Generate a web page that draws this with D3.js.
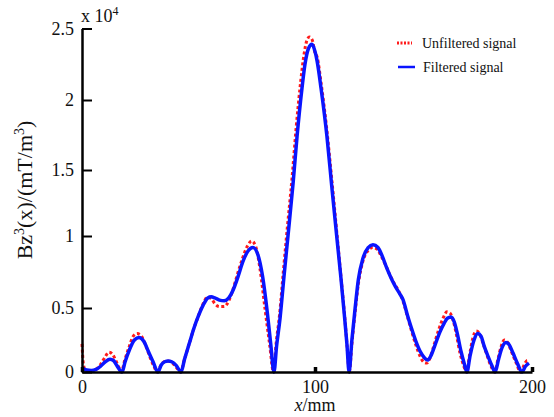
<!DOCTYPE html>
<html>
<head>
<meta charset="utf-8">
<script src="https://cdn.jsdelivr.net/npm/d3@7"></script>
<style>
  html, body { margin: 0; padding: 0; background: #fff; }
  svg { display: block; }
  svg text { font-family: "Liberation Serif", "Times New Roman", Tinos, "DejaVu Serif", serif !important; }
</style>
</head>
<body>
<svg id="chart" width="554" height="417"></svg>
<script>
// Position along the sensor (mm) and Bz^3 in units of 10^4 (mT/m^3)
const filteredX = [0,2,4,6,8,10,12,13.5,15,17.2,
  18.5,20.5,22.5,24.5,26.5,28.5,30.5,32.6,
  34,35.5,37,38.5,40.5,42.5,
  44,46,48,50,52,54,55.5,57,59,61,63,65,67,69,71,73.4,75.5,77.5,79.5,81,82.4,
  83.5,85,86.7,88.4,90.6,92.3,94.4,95.7,97.2,98.7,100,101,102.8,105.5,107.7,110,112,113.5,114.7,115.7,
  117,118.5,120,122,124.5,126.7,129,131,133,135,137,139,140.6,142.5,144.5,146.5,148.5,150.5,152,153.5,155.5,157.5,159.5,161,162.7,164.2,165.7,167.3,168.7,170,
  171.5,173.3,175,176.5,178,179.8,181.5,183,
  184.6,186.2,188,189.6,191.2,193.2,195.4,197,198.6];
const filteredY = [0.03,0.015,0.012,0.02,0.045,0.08,0.1,0.09,0.05,0,
  0.08,0.18,0.25,0.27,0.24,0.16,0.08,0,
  0.055,0.08,0.086,0.08,0.05,0,
  0.1,0.22,0.34,0.44,0.52,0.57,0.578,0.57,0.555,0.55,0.57,0.63,0.72,0.82,0.89,0.92,0.87,0.72,0.47,0.22,0,
  0.2,0.42,0.72,1.0,1.4,1.74,2.08,2.25,2.36,2.39,2.34,2.27,2.08,1.74,1.38,1.0,0.7,0.45,0.22,0,
  0.25,0.5,0.7,0.84,0.92,0.94,0.92,0.86,0.78,0.71,0.65,0.6,0.556,0.45,0.34,0.24,0.16,0.11,0.094,0.13,0.22,0.31,0.38,0.42,0.43,0.39,0.29,0.16,0.07,0,
  0.13,0.25,0.3,0.28,0.2,0.12,0.05,0,
  0.1,0.19,0.23,0.21,0.15,0.07,0,0.045,0.07];

const unfilteredX = [0,0.6,1.5,4,6,8,10,11.5,13,14.5,16,16.9,
  18.3,20.3,22,23.7,25.5,27.5,29.5,31,32.2,
  33.8,35.3,36.8,38.5,40.3,42.3,
  44,46,48,50,52,53.8,55.5,57,59,61,63,65,67,69,71,72.8,74.5,76.5,78.5,80.5,82.2,
  83.3,84.8,86.4,88,90.2,91.9,93.8,95.3,96.6,97.6,98.8,100,101,102.8,105.5,107.9,110.2,112.2,113.7,114.8,115.8,
  117,118.5,120,122,124.5,126.5,128.5,130.5,132.5,134.5,136.5,138.5,140.5,142.5,144.5,146.5,148.5,150.3,151.5,153,155,157,159,160.8,162.2,163.7,165.2,166.8,168.5,169.8,
  171.3,172.8,174.3,175.8,177.5,179.3,181,182.8,
  184.3,185.8,187.2,188.8,190.5,192.5,194.8,196.5,197.8,198.4];
const unfilteredY = [0.22,0.06,0.01,0.008,0.02,0.06,0.12,0.155,0.14,0.09,0.03,0,
  0.09,0.2,0.28,0.3,0.28,0.2,0.1,0.04,0,
  0.05,0.08,0.085,0.075,0.04,0,
  0.1,0.22,0.34,0.44,0.53,0.575,0.565,0.53,0.51,0.51,0.55,0.64,0.75,0.85,0.93,0.965,0.93,0.76,0.5,0.22,0,
  0.22,0.45,0.75,1.04,1.45,1.8,2.12,2.32,2.42,2.44,2.42,2.33,2.3,2.12,1.78,1.4,1.0,0.68,0.43,0.2,0,
  0.22,0.47,0.67,0.82,0.9,0.92,0.91,0.86,0.8,0.73,0.67,0.62,0.55,0.44,0.32,0.21,0.12,0.075,0.07,0.11,0.22,0.33,0.42,0.47,0.46,0.4,0.29,0.15,0.05,0,
  0.14,0.27,0.32,0.3,0.22,0.13,0.05,0,
  0.1,0.2,0.25,0.23,0.16,0.08,0,0.06,0.09,0.08];

const xTicks = [0, 100, 200];
const yTicks = [0, 0.5, 1, 1.5, 2, 2.5];
const seriesNames = ["Unfiltered signal", "Filtered signal"];

const serif = "'Liberation Serif', 'Times New Roman', Tinos, serif";
const svg = d3.select("#chart");

const x = d3.scaleLinear().domain([0, 100, 200]).range([82, 315, 532]);
const y = d3.scaleLinear().domain([0, 0.5, 1, 1.5, 2, 2.5]).range([372, 308, 236, 170, 100, 28.5]);

const line = d3.line()
  .x(d => x(d[0]))
  .y(d => y(d[1]))
  .curve(d3.curveMonotoneX);

const unfiltered = d3.zip(unfilteredX, unfilteredY);
const filtered = d3.zip(filteredX, filteredY);

// traces: red dotted underneath, blue solid on top
svg.append("path")
  .attr("d", line(unfiltered))
  .attr("fill", "none")
  .attr("stroke", "#ff1a1a")
  .attr("stroke-width", 3)
  .attr("stroke-dasharray", "3,2.5");

svg.append("path")
  .attr("d", line(filtered))
  .attr("fill", "none")
  .attr("stroke", "#0a14ff")
  .attr("stroke-width", 3.5)
  .attr("stroke-linejoin", "round");

// axes
const yAxis = d3.axisLeft(y)
  .tickValues(yTicks)
  .tickFormat(d => d3.format("")(d))
  .tickSizeInner(-10)
  .tickSizeOuter(0)
  .tickPadding(8);

const gy = svg.append("g").attr("transform", "translate(82,0)").call(yAxis)
  .attr("font-family", serif).attr("font-size", 18);
gy.select(".domain").attr("stroke", "#000").attr("stroke-width", 2.5);
gy.selectAll(".tick line").attr("stroke", "#000").attr("stroke-width", 2);
gy.selectAll(".tick text").style("font-family", serif).attr("fill", "#111");

const xAxis = d3.axisBottom(x)
  .tickValues(xTicks)
  .tickSizeInner(-5)
  .tickSizeOuter(0)
  .tickPadding(8);

const gx = svg.append("g").attr("transform", "translate(0,372)").call(xAxis)
  .attr("font-family", serif).attr("font-size", 18);
gx.select(".domain").attr("stroke", "#000").attr("stroke-width", 2.5);
gx.selectAll(".tick line").attr("stroke", "#000").attr("stroke-width", 3.5);
gx.selectAll(".tick text").style("font-family", serif).attr("fill", "#111");

// exponent marker
const expo = svg.append("text")
  .attr("x", 81).attr("y", 22)
  .style("font-family", serif)
  .attr("font-size", 18).attr("fill", "#111");
expo.append("tspan").text("x 10");
expo.append("tspan").attr("font-size", 12).attr("dy", -7).text("4");

// axis titles
const yt = svg.append("text")
  .attr("transform", "translate(32,190) rotate(-90)")
  .attr("text-anchor", "middle")
  .style("font-family", serif)
  .attr("font-size", 22)
  .attr("fill", "#111");
yt.append("tspan").text("Bz");
yt.append("tspan").attr("font-size", 14).attr("dy", -8).text("3");
yt.append("tspan").attr("dy", 8).text("(x)/(mT/m");
yt.append("tspan").attr("font-size", 14).attr("dy", -8).text("3");
yt.append("tspan").attr("dy", 8).text(")");

const xt = svg.append("text")
  .attr("x", 315).attr("y", 411)
  .attr("text-anchor", "middle")
  .style("font-family", serif)
  .attr("font-size", 18)
  .attr("fill", "#111");
xt.append("tspan").attr("font-style", "italic").text("x");
xt.append("tspan").text("/mm");

// legend
const legend = svg.append("g").style("font-family", serif);
legend.append("line")
  .attr("x1", 397).attr("x2", 412).attr("y1", 43).attr("y2", 43)
  .attr("stroke", "#ff1a1a").attr("stroke-width", 3).attr("stroke-dasharray", "2,1.5");
legend.append("text")
  .attr("x", 422).attr("y", 48)
  .attr("font-size", 14).attr("fill", "#111")
  .text(seriesNames[0]);
legend.append("line")
  .attr("x1", 398).attr("x2", 415).attr("y1", 67).attr("y2", 67)
  .attr("stroke", "#0a14ff").attr("stroke-width", 2.5);
legend.append("text")
  .attr("x", 423).attr("y", 72)
  .attr("font-size", 14).attr("fill", "#111")
  .text(seriesNames[1]);
</script>
</body>
</html>
